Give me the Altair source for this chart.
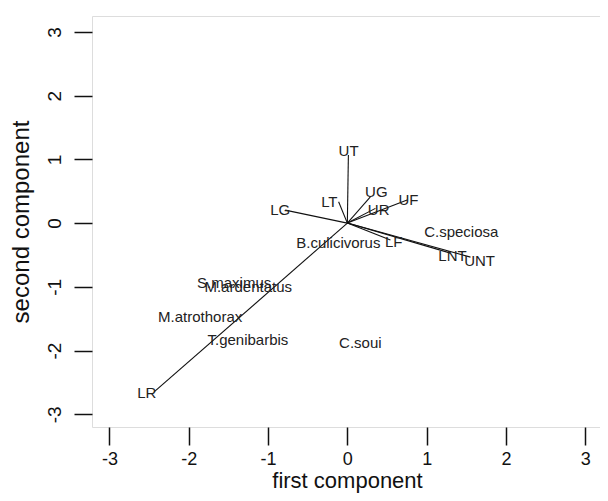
import altair as alt
import pandas as pd

# Species scores (first, second component)
species = ["S.maximus", "M.ardentatus", "M.atrothorax", "T.genibarbis",
           "C.soui", "C.speciosa", "B.culicivorus"]
sp_x = [-1.427, -1.250, -1.856, -1.254, 0.164, 1.436, -0.114]
sp_y = [-0.947, -1.010, -1.472, -1.835, -1.874, -0.137, -0.309]

# Variable loadings: arrow tips and label positions
variables = ["UT", "UG", "UF", "UR", "LT", "LG", "LF", "LNT", "UNT", "LR"]
tip_x = [0.013, 0.290, 0.754, 0.354, -0.110, -0.783, 0.543, 1.301, 1.553, -2.437]
tip_y = [1.068, 0.413, 0.361, 0.231, 0.335, 0.204, -0.267, -0.471, -0.534, -2.650]
lab_x = [0.016, 0.366, 0.770, 0.395, -0.227, -0.846, 0.585, 1.326, 1.667, -2.529]
lab_y = [1.136, 0.492, 0.361, 0.204, 0.335, 0.204, -0.298, -0.518, -0.597, -2.670]

ticks = [-3, -2, -1, 0, 1, 2, 3]

sp_df = pd.DataFrame({"name": species, "x": sp_x, "y": sp_y})
var_df = pd.DataFrame({"name": variables, "x0": [0.0] * len(variables),
                       "y0": [0.0] * len(variables),
                       "tx": tip_x, "ty": tip_y, "lx": lab_x, "ly": lab_y})

FONT = "Liberation Sans"

xscale = alt.Scale(domain=[-3.22, 3.186], nice=False, zero=False)
yscale = alt.Scale(domain=[-3.2, 3.25], nice=False, zero=False)

xaxis = alt.Axis(title="first component", values=ticks, grid=False,
                 labelExpr="'' + datum.value",
                 domain=False, tickSize=18, tickWidth=1.5, tickColor="#111",
                 labelFont=FONT, labelFontSize=18, labelColor="#111",
                 labelBaseline="alphabetic", labelPadding=19, labelFlush=False,
                 titleFont=FONT, titleFontSize=22, titleFontWeight="normal",
                 titleColor="#111", titleBaseline="alphabetic", titleY=60,
                 titleX=255, titleAlign="center")
yaxis = alt.Axis(title="second component", values=ticks, grid=False,
                 labelExpr="'' + datum.value",
                 domain=False, tickSize=18, tickWidth=1.5, tickColor="#111",
                 labelFont=FONT, labelFontSize=19, labelColor="#111",
                 labelAngle=270, labelAlign="center", labelBaseline="alphabetic",
                 labelPadding=14, labelFlush=False,
                 titleFont=FONT, titleFontSize=24, titleFontWeight="normal",
                 titleColor="#111", titleBaseline="alphabetic", titleAngle=270,
                 titleX=-64, titleY=205.5, titleAlign="center")

arrows = alt.Chart(var_df).mark_rule(color="#111", strokeWidth=1.1).encode(
    x=alt.X("x0:Q", scale=xscale, axis=xaxis),
    y=alt.Y("y0:Q", scale=yscale, axis=yaxis),
    x2="tx:Q",
    y2="ty:Q",
)

var_text = alt.Chart(var_df).mark_text(font=FONT, fontSize=15, color="#222").encode(
    x=alt.X("lx:Q", scale=xscale),
    y=alt.Y("ly:Q", scale=yscale),
    text="name:N",
)

sp_text = alt.Chart(sp_df).mark_text(font=FONT, fontSize=15, color="#222").encode(
    x=alt.X("x:Q", scale=xscale),
    y=alt.Y("y:Q", scale=yscale),
    text="name:N",
)

chart = alt.layer(arrows, var_text, sp_text).properties(
    width=508, height=411,
    autosize=alt.AutoSizeParams(type="none"),
    padding={"left": 84, "top": 8, "right": 0, "bottom": 66},
).configure_view(stroke="#111", strokeWidth=1.5, fill="white").configure(
    background="white"
)

chart.save("out.html", embed_options={"renderer": "svg", "actions": False})
